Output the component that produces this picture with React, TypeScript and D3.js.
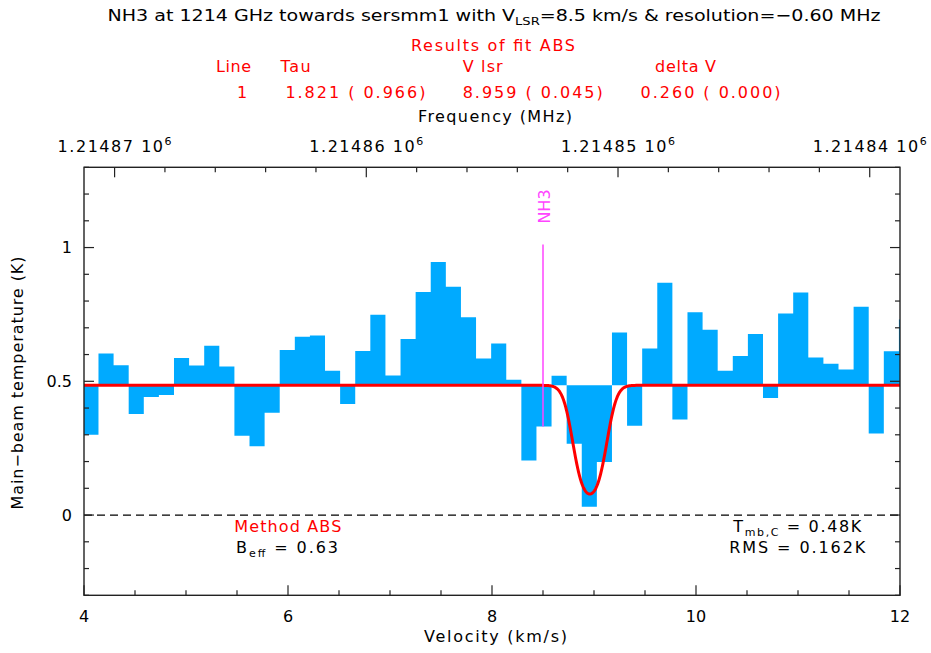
import React from "react";
import * as d3 from "d3";

// ---- data ----
const speedOfLight = 299792.458; // km/s
const restFreq = 1214852.98; // MHz (NH3 line)
const vlsr = 8.5;
const firstChannelFreq = 1214870.94; // MHz
const channelStep = -0.6; // MHz
// main-beam temperature per channel (K)
const tmb = [
  0.300, 0.604, 0.560, 0.378, 0.441, 0.449, 0.587, 0.559, 0.633, 0.555,
  0.296, 0.257, 0.382, 0.617, 0.667, 0.671, 0.539, 0.415, 0.613, 0.749,
  0.522, 0.658, 0.834, 0.946, 0.853, 0.739, 0.585, 0.641, 0.506, 0.204,
  0.331, 0.521, 0.267, 0.031, 0.198, 0.682, 0.334, 0.623, 0.868, 0.357,
  0.758, 0.693, 0.539, 0.595, 0.677, 0.438, 0.753, 0.832, 0.589, 0.566,
  0.544, 0.779, 0.305, 0.612, 0.731,
];
const continuum = 0.485;
const fitTau = 1.821;
const fitV = 8.959;
const fitDeltaV = 0.26;
const markerTop = 1.011;
const markerBottom = 0.331;

const velTicks = [4, 4.5, 5, 5.5, 6, 6.5, 7, 7.5, 8, 8.5, 9, 9.5, 10, 10.5, 11, 11.5, 12];
const velLabels = [4, 6, 8, 10, 12];
const tempLabels = [0, 0.5, 1];

const FONT = "'DejaVu Sans', sans-serif";

const velOfFreq = (f: number) => vlsr + (speedOfLight * (restFreq - f)) / restFreq;
const freqOfVel = (v: number) => restFreq - ((v - vlsr) * restFreq) / speedOfLight;

export default function App() {
  const W = 931, H = 653;
  const L = 84, R = 900, T = 167.3, B = 595.3;
  const x = d3.scaleLinear().domain([4, 12]).range([L, R]);
  const y = d3.scaleLinear().domain([-0.3, 1.3]).range([B, T]);
  const xf = d3.scaleLinear().domain([freqOfVel(4), freqOfVel(12)]).range([L, R]);

  const dv = Math.abs(velOfFreq(firstChannelFreq + channelStep) - velOfFreq(firstChannelFreq));
  const chans = tmb.map((t, i) => ({ v: velOfFreq(firstChannelFreq + channelStep * i), t }));
  const stepPts = chans.map((c) => ({ e: c.v - dv / 2, t: c.t }));
  stepPts.push({ e: chans[chans.length - 1].v + dv / 2, t: chans[chans.length - 1].t });
  const area = d3
    .area<{ e: number; t: number }>()
    .x((d) => x(d.e))
    .y0(() => y(continuum))
    .y1((d) => y(d.t))
    .curve(d3.curveStepAfter);

  const fitPts = d3.range(4, 12.0001, 0.004).map((v) => ({
    v,
    t: continuum * Math.exp(-fitTau * Math.exp((-4 * Math.LN2 * (v - fitV) * (v - fitV)) / (fitDeltaV * fitDeltaV))),
  }));
  const fitLine = d3
    .line<{ v: number; t: number }>()
    .x((d) => x(d.v))
    .y((d) => y(d.t));

  const fmin = Math.min(...xf.domain()), fmax = Math.max(...xf.domain());
  const freqTicks = d3.range(Math.ceil(fmin / 2) * 2, fmax, 2);
  const tempTicks = d3.range(-3, 14).map((k) => k / 10);

  const axisColor = "#222";
  return (
    <svg width={W} height={H} style={{ position: "absolute", left: 0, top: 0, background: "#fff" }} fontFamily={FONT}>
      <defs>
        <clipPath id="plotclip">
          <rect x={L} y={T} width={R - L} height={B - T} />
        </clipPath>
      </defs>
      <rect x={0} y={0} width={W} height={H} fill="#fff" />

      {/* header */}
      <text x={494} y={20.7} fontSize={16} textAnchor="middle" textLength={773} lengthAdjust="spacingAndGlyphs" fill="#000">
        NH3 at 1214 GHz towards sersmm1 with V
        <tspan fontSize={11} dy={4.5}>LSR</tspan>
        <tspan dy={-4.5}>=8.5 km/s &amp; resolution=−0.60 MHz</tspan>
      </text>
      <text x={493} y={50.7} fontSize={16} textAnchor="middle" textLength={164} fill="#f00">Results of fit ABS</text>
      <text x={216} y={71.7} fontSize={16} textLength={35} fill="#f00">Line</text>
      <text x={280.6} y={71.7} fontSize={16} textLength={30} fill="#f00">Tau</text>
      <text x={462.7} y={71.7} fontSize={16} textLength={40} fill="#f00">V lsr</text>
      <text x={655} y={71.7} fontSize={16} textLength={61} fill="#f00">delta V</text>
      <text x={237} y={98.3} fontSize={16} fill="#f00">1</text>
      <text x={285.4} y={98.3} fontSize={16} textLength={140} fill="#f00">1.821 ( 0.966)</text>
      <text x={462.7} y={98.3} fontSize={16} textLength={140} fill="#f00">8.959 ( 0.045)</text>
      <text x={640.6} y={98.3} fontSize={16} textLength={140} fill="#f00">0.260 ( 0.000)</text>
      <text x={495} y={121.7} fontSize={16} textAnchor="middle" textLength={154} fill="#000">Frequency (MHz)</text>

      {/* spectrum */}
      <g clipPath="url(#plotclip)">
        <path d={area(stepPts) || ""} fill="#00aaff" stroke="none" />
        <line x1={L} x2={R} y1={y(0)} y2={y(0)} stroke="#000" strokeWidth={1.3} strokeDasharray="8,5" />
        <path d={fitLine(fitPts) || ""} fill="none" stroke="#ff0000" strokeWidth={3} />
        <line x1={x(vlsr)} x2={x(vlsr)} y1={y(markerBottom)} y2={y(markerTop)} stroke="#ff44ff" strokeWidth={1.5} />
      </g>
      <text transform={`translate(550,206.5) rotate(-90)`} fontSize={16} textAnchor="middle" fill="#ff44ff">NH3</text>

      {/* frame */}
      <rect x={L} y={T} width={R - L} height={B - T} fill="none" stroke={axisColor} strokeWidth={1.4} />

      {/* bottom velocity ticks */}
      {velTicks.map((v) => {
        const major = velLabels.includes(v);
        return <line key={"bv" + v} x1={x(v)} x2={x(v)} y1={B} y2={B - (major ? 10 : 5)} stroke={axisColor} strokeWidth={1.2} />;
      })}
      {velLabels.map((v) => (
        <text key={"bl" + v} x={x(v)} y={621.7} fontSize={16} textAnchor="middle" fill="#000">{v}</text>
      ))}
      <text x={495.5} y={641.7} fontSize={16} textAnchor="middle" textLength={143} fill="#000">Velocity (km/s)</text>

      {/* top frequency ticks */}
      {freqTicks.map((f) => {
        const major = Math.round(f) % 10 === 0;
        return <line key={"tf" + f} x1={xf(f)} x2={xf(f)} y1={T} y2={T + (major ? 10 : 5)} stroke={axisColor} strokeWidth={1.2} />;
      })}
      {freqTicks.filter((f) => Math.round(f) % 10 === 0).map((f) => (
        <text key={"tl" + f} x={xf(f)} y={151.7} fontSize={16} textAnchor="middle" textLength={114} fill="#000">
          {(f / 1e6).toFixed(5)}  10<tspan fontSize={11} dy={-7}>6</tspan>
        </text>
      ))}

      {/* left / right temperature ticks */}
      {tempTicks.map((t) => {
        const major = tempLabels.some((l) => Math.abs(l - t) < 1e-6);
        const len = major ? 10 : 5;
        return (
          <g key={"yt" + t}>
            <line x1={L} x2={L + len} y1={y(t)} y2={y(t)} stroke={axisColor} strokeWidth={1.2} />
            <line x1={R} x2={R - len} y1={y(t)} y2={y(t)} stroke={axisColor} strokeWidth={1.2} />
          </g>
        );
      })}
      {tempLabels.map((t) => (
        <text key={"yl" + t} x={72} y={y(t) + 5.8} fontSize={16} textAnchor="end" fill="#000">{t}</text>
      ))}
      <text transform={`translate(23.3,383) rotate(-90)`} fontSize={16} textAnchor="middle" textLength={253} fill="#000">
        Main−beam temperature (K)
      </text>

      {/* annotations */}
      <text x={234.3} y={531.7} fontSize={16} textLength={107} fill="#f00">Method ABS</text>
      <text x={236} y={552.7} fontSize={16} textLength={102} fill="#000">
        B<tspan fontSize={11} dy={4}>eff</tspan><tspan dy={-4}> = 0.63</tspan>
      </text>
      <text x={733.3} y={531.7} fontSize={16} textLength={128} fill="#000">
        T<tspan fontSize={11} dy={4}>mb,C</tspan><tspan dy={-4}> = 0.48K</tspan>
      </text>
      <text x={729.3} y={552.7} fontSize={16} textLength={136} fill="#000">RMS = 0.162K</text>
    </svg>
  );
}
